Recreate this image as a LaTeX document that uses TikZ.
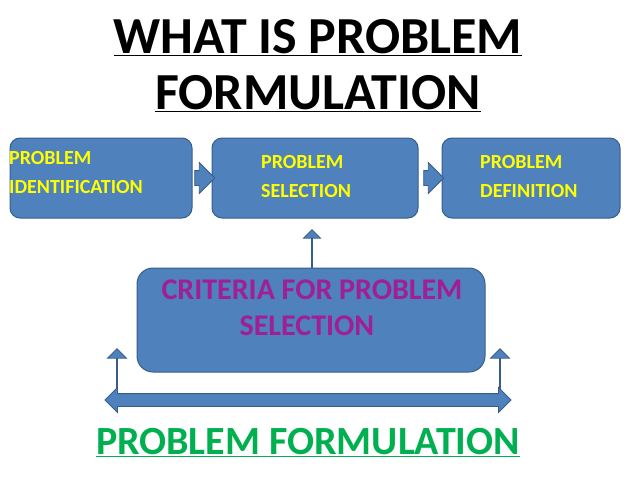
\documentclass[tikz,border=0pt]{standalone}
\usepackage{fontspec}
\setmainfont{Carlito}
\usetikzlibrary{shapes.arrows}
\definecolor{boxblue}{RGB}{79,129,189}
\definecolor{boxline}{RGB}{56,93,138}
\definecolor{txtyellow}{RGB}{255,255,0}
\definecolor{txtmagenta}{RGB}{160,30,150}
\definecolor{txtgreen}{RGB}{0,176,80}
\tikzset{
	stepbox/.style={draw=boxline, fill=boxblue, rounded corners=10pt, line width=1pt},
	boxtext/.style={text=txtyellow, font=\fontsize{20}{29}\selectfont\bfseries, align=left, anchor=north west, inner sep=0pt},
	blockarrow/.style={single arrow, draw=boxline, fill=boxblue, line width=0.8pt, inner xsep=0pt, inner ysep=7pt, single arrow head extend=8pt},
}
\begin{document}
\begin{tikzpicture}[x=1pt,y=-1pt]
		\useasboundingbox (0,0) rectangle (638,479);
		% title
		\node (title) at (318,66)[font=\fontsize{52}{56}\selectfont\bfseries, align=center] {\underline{WHAT IS PROBLEM}\\\underline{FORMULATION}};
		% top row
		\draw[stepbox] (10,138) rectangle (192,218);
		\draw[stepbox] (212,138) rectangle (418,218);
		\draw[stepbox] (442,138) rectangle (620,218);
		\node (ident) at (9,151)[boxtext] {PROBLEM\\IDENTIFICATION};
		\node (select) at (261,155)[boxtext] {PROBLEM\\SELECTION};
		\node (defin) at (480,155)[boxtext] {PROBLEM\\DEFINITION};
		% criteria
		\draw[stepbox, rounded corners=16pt] (137,268) rectangle (485,372);
		\node (crit) at (312,308)[text=txtmagenta, font=\fontsize{30}{36}\selectfont\bfseries, align=left] {CRITERIA FOR PROBLEM\\\hspace*{2.6em}SELECTION\hspace*{2.6em}};
		% arrows
		\node (a1) at (201,178)[blockarrow, minimum height=20pt] {};
		\node (a2) at (430,178)[blockarrow, minimum height=20pt] {};
		\node (a3) at (312,249)[blockarrow, shape border rotate=90, inner ysep=9pt, minimum height=38pt] {};
		\node (a4) at (117,369)[blockarrow, shape border rotate=90, minimum height=40pt, single arrow head extend=9pt] {};
		\node (a5) at (500,369)[blockarrow, shape border rotate=90, minimum height=40pt, single arrow head extend=9pt] {};
		\node (a6) at (308,400)[double arrow, draw=boxline, fill=boxblue, line width=0.8pt, inner xsep=0pt, inner ysep=6pt, minimum height=406pt, double arrow head extend=6pt] {};
		% footer
		\node (foot) at (308,443)[text=txtgreen, font=\fontsize{40}{46}\selectfont\bfseries] {\underline{PROBLEM FORMULATION}};
	\end{tikzpicture}
\end{document}
